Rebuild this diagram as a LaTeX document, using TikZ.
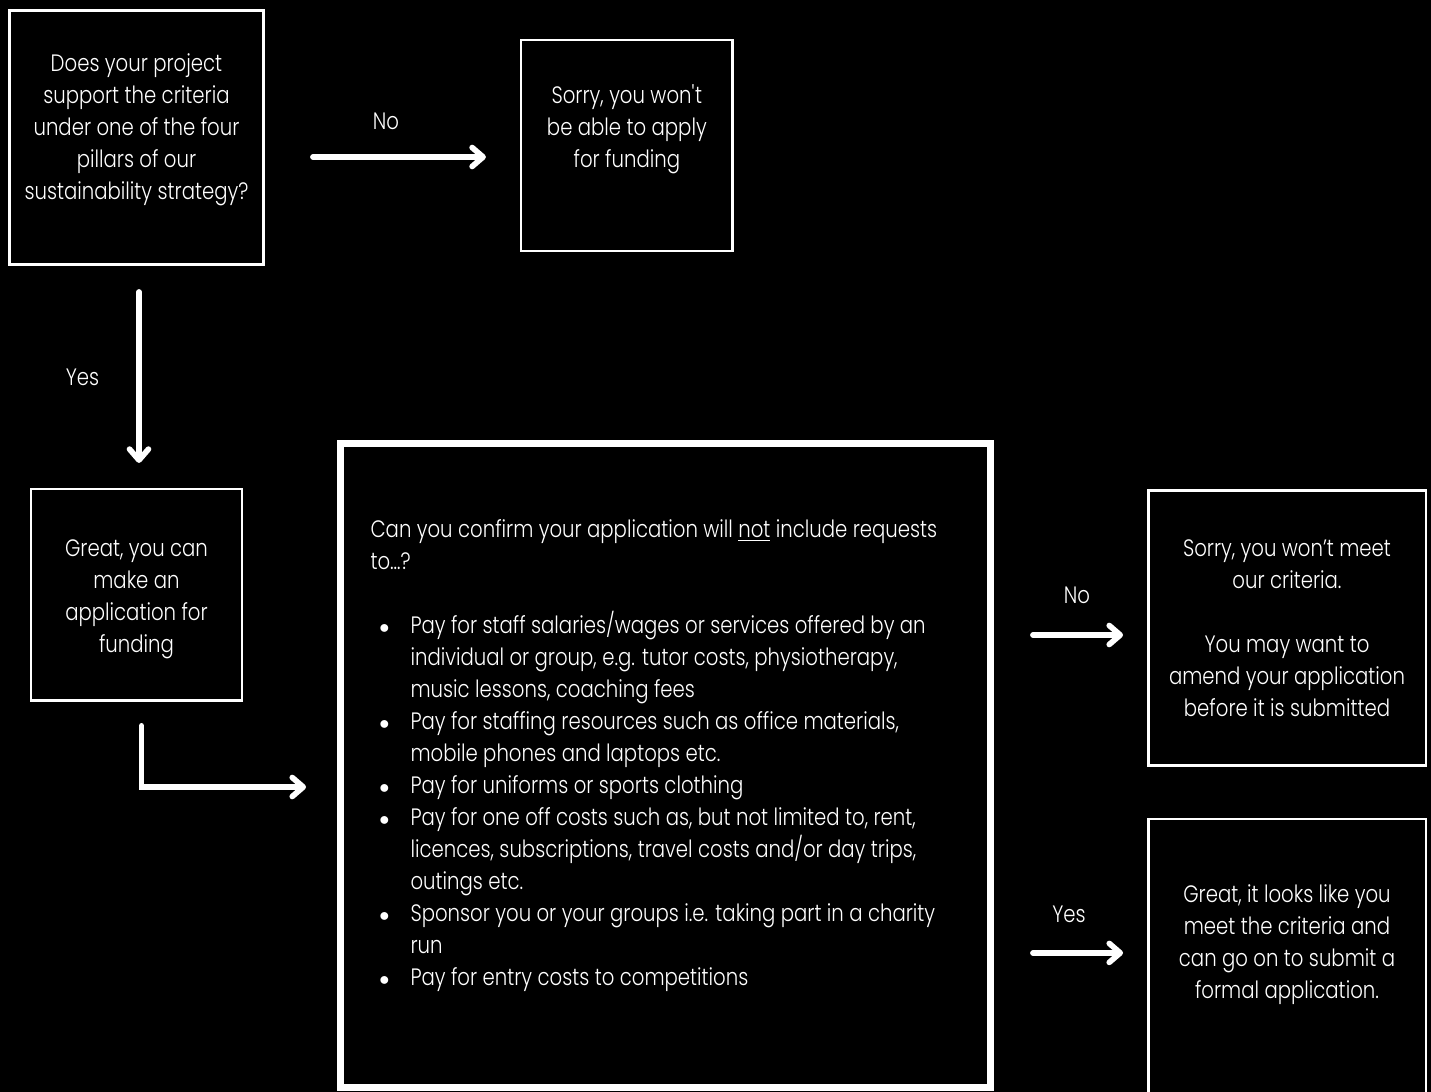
\documentclass[tikz,border=0pt]{standalone}
\usepackage{fontspec}
\setmainfont{Poppins Light}[FakeStretch=0.83]
\usepackage{enumitem}
\usetikzlibrary{arrows.meta, positioning}

\begin{document}
\begin{tikzpicture}[
    x=0.02cm, y=-0.02cm,
    every node/.style={text=white, font=\fontsize{13.5}{18.2}\selectfont},
    box/.style={rectangle, draw=white, line width=1.4pt, minimum width=4.23cm, minimum height=4.23cm, text width=4.1cm, align=flush center, inner sep=0pt},
    bigbox/.style={rectangle, draw=white, line width=4pt, minimum width=13cm, minimum height=12.88cm, inner sep=0pt},
    arrow/.style={white, line width=3.2pt, line cap=round, -{Straight Barb[round, length=0.22cm, width=0.38cm]}},
    lbl/.style={inner sep=0pt}
    ]
    \fill[black] (0,0) rectangle (1431,1092);
    \useasboundingbox (0,0) rectangle (1431,1092);
    \clip (0,0) rectangle (1431,1092);

    % Left column
    \node (quest) [box, minimum width=5.09cm, minimum height=5.09cm, text width=5cm] at (136.5,137.5) {Does your project\\support the criteria\\under one of the four\\pillars of our\\sustainability strategy?\\[-0.2cm]\mbox{}};
    \node (nofund) [box, right=5.1cm of quest, yshift=-0.16cm] {Sorry, you won\textquotesingle t\\be able to apply\\for funding\\[0.12cm]\mbox{}};
    \node (canapply) [box, below=4.44cm of quest] {\mbox{}\\[-0.13cm]Great, you can\\make an\\application for\\funding};

    % Criteria box
    \node (criteria) [bigbox] at (665.5,765.5) {%
        \begin{minipage}{11.8cm}\raggedright\setlength{\parskip}{0pt}%
        Can you confirm your application will \underline{not} include requests\\
        to…?\par\vspace{18.2pt}
        \begin{itemize}[label=\scalebox{0.8}{$\bullet$}, leftmargin=0.8cm, labelsep=0.42cm, itemsep=0pt, topsep=0pt, parsep=0pt, partopsep=0pt]
            \item Pay for staff salaries/wages or services offered by an\\individual or group, e.g. tutor costs, physiotherapy,\\music lessons, coaching fees
            \item Pay for staffing resources such as office materials,\\mobile phones and laptops etc.
            \item Pay for uniforms or sports clothing
            \item Pay for one off costs such as, but not limited to, rent,\\licences, subscriptions, travel costs and/or day trips,\\outings etc.
            \item Sponsor you or your groups i.e. taking part in a charity\\run
            \item Pay for entry costs to competitions
        \end{itemize}
        \vspace*{0.4cm}
        \end{minipage}};

    % Outcomes
    \node (unmet) [box, minimum width=5.55cm, minimum height=5.51cm, text width=5.4cm] at (1287,628) {Sorry, you won’t meet\\our criteria.\\[18.2pt]You may want to\\amend your application\\before it is submitted};
    \node (met) [box, minimum width=5.55cm, minimum height=5.51cm, text width=5.4cm, below=1.02cm of unmet] {Great, it looks like you\\meet the criteria and\\can go on to submit a\\formal application.\\[-0.04cm]\mbox{}};

    % Arrows
    \draw [arrow, shorten <=0.96cm, shorten >=0.68cm] ([yshift=-0.39cm]quest.east) -- node[lbl, above=0.49cm, xshift=-0.13cm] {No} ([yshift=-0.39cm]quest.east -| nofund.west);
    \draw [arrow, shorten <=0.52cm, shorten >=0.5cm] ([xshift=0.05cm]quest.south) -- node[lbl, left=0.74cm] {Yes} ([xshift=0.05cm]quest.south |- canapply.north);
    \draw [arrow, shorten <=0.48cm, shorten >=0.62cm] ([xshift=0.1cm]canapply.south) |- ([yshift=-0.43cm]criteria.west);
    \draw [arrow, shorten <=0.78cm, shorten >=0.48cm] ([yshift=-0.14cm]unmet.west -| criteria.east) -- node[lbl, above=0.57cm, xshift=0.13cm] {No} ([yshift=-0.14cm]unmet.west);
    \draw [arrow, shorten <=0.78cm, shorten >=0.48cm] ([yshift=0.08cm]met.west -| criteria.east) -- node[lbl, above=0.55cm, xshift=-0.03cm] {Yes} ([yshift=0.08cm]met.west);

\end{tikzpicture}
\end{document}
